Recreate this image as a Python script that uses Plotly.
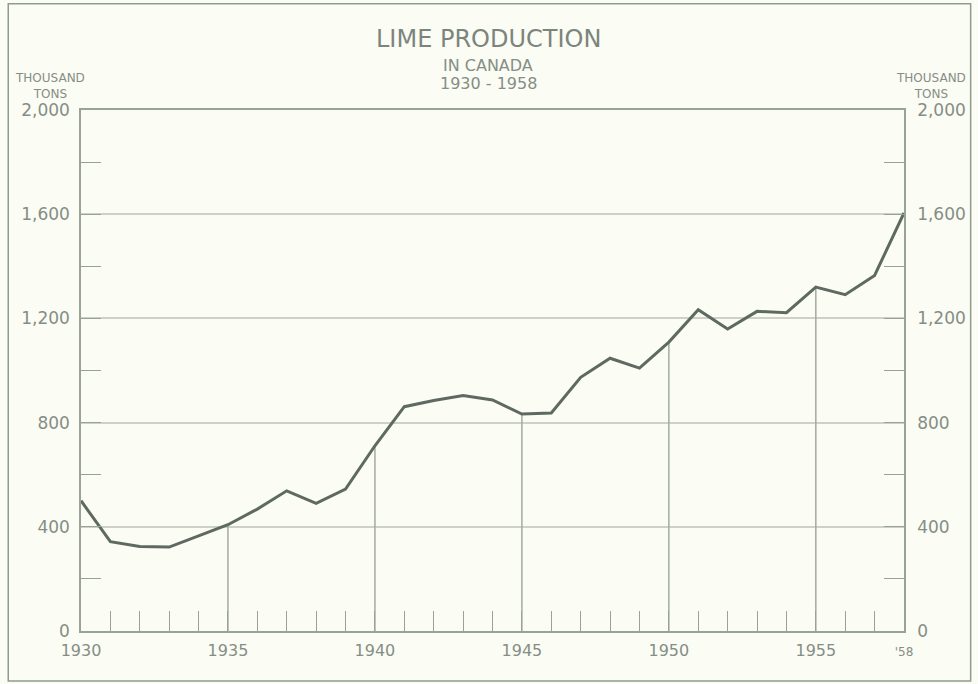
import plotly.graph_objects as go

years = list(range(1930, 1959))
production = [500, 343, 324, 322, 365, 408, 468, 538, 490, 545, 711,
              861, 885, 904, 887, 833, 837, 974, 1047, 1009, 1109,
              1233, 1159, 1227, 1222, 1320, 1291, 1365, 1605]
drop_years = [1935, 1940, 1945, 1950, 1955]
x_tickvals = [1930, 1935, 1940, 1945, 1950, 1955, 1958]
x_ticktext = ["1930", "1935", "1940", "1945", "1950", "1955",
              "<span style='font-size:12px'>'58</span>"]
y_tickvals = [0, 400, 800, 1200, 1600, 2000]
y_ticktext = ["0", "400", "800", "1,200", "1,600", "2,000"]
y_minor = [200, 600, 1000, 1400, 1800]

BG = "#fbfcf4"
TXT = "#858e86"
GRID = "#cdd1c9"
AX = "#98a296"
LINE = "#5e6a61"
FONT = "DejaVu Sans, sans-serif"

dx, dy = [], []
for yr in drop_years:
    v = production[years.index(yr)]
    dx += [yr, yr, None]
    dy += [0, v, None]

fig = go.Figure()
fig.add_trace(go.Scatter(x=dx, y=dy, mode="lines",
                         line=dict(color="#a3aba2", width=1.5),
                         hoverinfo="skip", showlegend=False))
fig.add_trace(go.Scatter(x=years, y=production, mode="lines",
                         line=dict(color=LINE, width=3),
                         showlegend=False))
fig.add_trace(go.Scatter(x=[1930], y=[0], yaxis="y2", mode="lines",
                         line=dict(width=0), hoverinfo="skip",
                         showlegend=False))

fig.update_layout(
    width=978, height=684,
    margin=dict(l=81, r=72, t=110, b=53),
    paper_bgcolor=BG, plot_bgcolor=BG,
    font=dict(family=FONT, color=TXT, size=17),
    xaxis=dict(range=[1930, 1958], tickmode="array", tickvals=x_tickvals,
               ticktext=x_ticktext, ticks="inside", ticklen=20,
               tickcolor=AX, tickwidth=1.2, showgrid=False, zeroline=False,
               showline=True, linecolor=AX, linewidth=2, mirror=True,
               tickfont=dict(size=16, color=TXT), ticklabelstandoff=4,
               minor=dict(dtick=1, tick0=1930, ticks="inside", ticklen=20,
                          tickcolor=AX, tickwidth=1.2, showgrid=False)),
    yaxis=dict(range=[0, 2000], tickmode="array", tickvals=y_tickvals,
               ticktext=y_ticktext, ticks="inside", ticklen=20,
               tickcolor=AX, showgrid=True, gridcolor=GRID, gridwidth=2,
               zeroline=False, showline=True, linecolor=AX, linewidth=1.5,
               tickfont=dict(size=17, color=TXT), ticklabelstandoff=6,
               minor=dict(tickmode="array", tickvals=y_minor, ticks="inside",
                          ticklen=20, tickcolor=AX, tickwidth=1.2,
                          showgrid=False)),
    yaxis2=dict(range=[0, 2000], overlaying="y", side="right",
                tickmode="array", tickvals=y_tickvals, ticktext=y_ticktext,
                ticks="inside", ticklen=20, tickcolor=AX, showgrid=False,
                zeroline=False, showline=True, linecolor=AX, linewidth=1.5,
                tickfont=dict(size=17, color=TXT), ticklabelstandoff=8,
                minor=dict(tickmode="array", tickvals=y_minor,
                           ticks="inside", ticklen=20, tickcolor=AX,
                           tickwidth=1.2, showgrid=False)),
    shapes=[dict(type="rect", xref="paper", yref="paper",
                 x0=-0.0884, x1=1.081, y0=-0.0962, y1=1.2038,
                 line=dict(color="#8f9c8c", width=1.5), layer="below")],
    annotations=[
        dict(text="LIME PRODUCTION", xref="paper", yref="paper",
             x=0.495, y=(630.5 - 40) / 520, showarrow=False,
             xanchor="center", yanchor="middle",
             font=dict(size=24, color="#7c857d")),
        dict(text="IN CANADA", xref="paper", yref="paper",
             x=0.495, y=(630.5 - 66) / 520, showarrow=False,
             xanchor="center", yanchor="middle",
             font=dict(size=16, color=TXT)),
        dict(text="1930 - 1958", xref="paper", yref="paper",
             x=0.495, y=(630.5 - 84) / 520, showarrow=False,
             xanchor="center", yanchor="middle",
             font=dict(size=16, color=TXT)),
        dict(text="THOUSAND<br>TONS", xref="paper", yref="paper",
             x=(50 - 81) / 826, y=(630.5 - 87) / 520, showarrow=False,
             xanchor="center", yanchor="middle", align="center",
             font=dict(size=12, color=TXT)),
        dict(text="THOUSAND<br>TONS", xref="paper", yref="paper",
             x=(934 - 81) / 826, y=(630.5 - 87) / 520, showarrow=False,
             xanchor="center", yanchor="middle", align="center",
             font=dict(size=12, color=TXT)),
    ],
)

fig.write_html("out.html", config={"displayModeBar": False},
               post_script="document.body.style.margin='0';"
                           "document.body.style.background='#fbfcf4';")
